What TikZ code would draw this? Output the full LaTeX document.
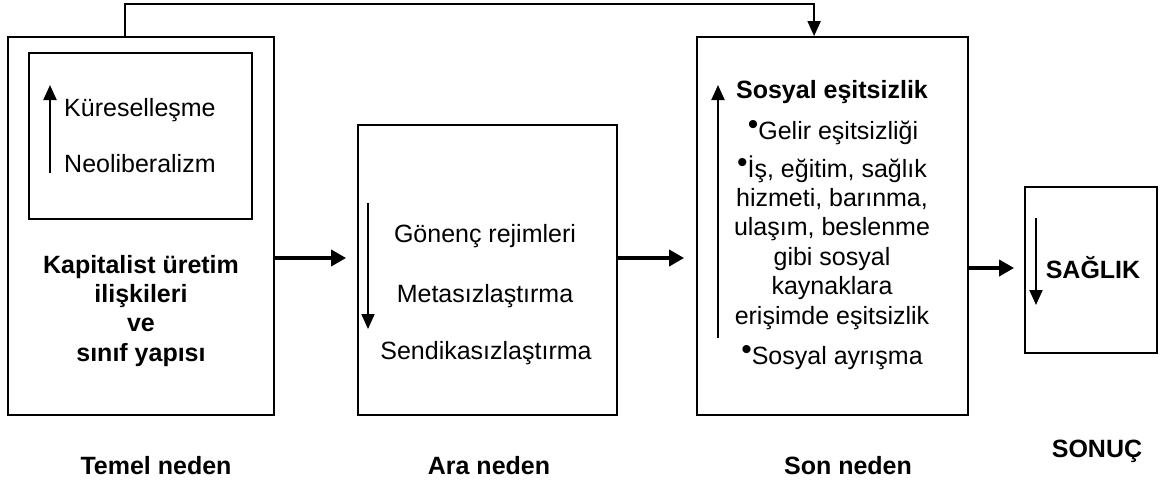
\documentclass[tikz,border=0pt]{standalone}
\usepackage{fontspec}
\setmainfont{Liberation Sans}
\usetikzlibrary{arrows.meta}
\newcommand{\mybul}{\raisebox{0.18em}{\fontsize{30}{30}\selectfont •}}
\begin{document}
\begin{tikzpicture}[x=1pt,y=-1pt,
  box/.style={draw,line width=1.8pt,inner sep=0pt},
  txt/.style={font=\fontsize{25}{29.4}\selectfont,inner sep=0pt},
  btxt/.style={font=\fontsize{25}{29.4}\selectfont\bfseries,inner sep=0pt},
  flow/.style={line width=4pt,-{Triangle[length=15pt,width=16pt]}},
  thinarr/.style={line width=2pt,-{Triangle[length=15pt,width=13pt]}}]
\fill[white] (0,0) rectangle (1163,485);
\useasboundingbox (0,0) rectangle (1163,485);
% boxes
\node[box,minimum width=266pt,minimum height=378pt] (box1) at (141,226) {};
\node[box,minimum width=223pt,minimum height=166pt] (inner) at (140.5,136) {};
\node[box,minimum width=259pt,minimum height=290pt] (box2) at (487.5,270) {};
\node[box,minimum width=271pt,minimum height=378pt] (box3) at (832.5,226) {};
\node[box,minimum width=132pt,minimum height=166pt] (box4) at (1091,270) {};
% box 1 texts
\node[txt,anchor=base west] (kur) at (64,116) {Küreselleşme};
\node[txt,anchor=base west] (neo) at (64,172) {Neoliberalizm};
\node[btxt,align=center,anchor=base] (kap) at (141,361.2) {Kapitalist üretim\\ilişkileri\\ve\\sınıf yapısı};
% box 2 texts
\node[txt,anchor=base] (gon) at (485,242) {Gönenç rejimleri};
\node[txt,anchor=base] (met) at (485,302) {Metasızlaştırma};
\node[txt,anchor=base] (sen) at (486,359) {Sendikasızlaştırma};
% box 3 texts
\node[btxt,anchor=base] (sos) at (832,98) {Sosyal eşitsizlik};
\node[txt,anchor=base] (gel) at (833,139) {\mybul Gelir eşitsizliği};
\node[txt,align=center,anchor=base] (is) at (832,324) {\mybul İş, eğitim, sağlık\\hizmeti, barınma,\\ulaşım, beslenme\\gibi sosyal\\kaynaklara\\erişimde eşitsizlik};
\node[txt,anchor=base] (ayr) at (832,364) {\mybul Sosyal ayrışma};
% box 4 text
\node[btxt,anchor=base] (sag) at (1093,278) {SAĞLIK};
% bottom labels
\node[btxt,anchor=base] (l1) at (156,474) {Temel neden};
\node[btxt,anchor=base] (l2) at (489,474) {Ara neden};
\node[btxt,anchor=base] (l3) at (848,474) {Son neden};
\node[btxt,anchor=base] (l4) at (1097,457) {SONUÇ};
% trend arrows inside boxes
\coordinate (u1a) at (50,173); \coordinate (u1b) at (50,85);
\coordinate (d2a) at (368,203); \coordinate (d2b) at (368,329);
\coordinate (u3a) at (718,338); \coordinate (u3b) at (718,85);
\coordinate (d4a) at (1036,218); \coordinate (d4b) at (1036,305);
\draw[thinarr] (u1a) -- (u1b);
\draw[thinarr] (d2a) -- (d2b);
\draw[thinarr] (u3a) -- (u3b);
\draw[thinarr] (d4a) -- (d4b);
% flow arrows
\draw[flow] ([yshift=-32pt]box1.east) -- ([xshift=-11pt,yshift=12pt]box2.west);
\draw[flow] ([yshift=12pt]box2.east) -- ([xshift=-12pt,yshift=-32pt]box3.west);
\draw[flow] ([yshift=-42pt]box3.east) -- ([xshift=-10pt,yshift=2pt]box4.west);
% top feedback connector
\draw[thinarr] ([xshift=118pt]box1.north west) -- ++(0,-32) -| ([xshift=118pt]box3.north west);
\end{tikzpicture}
\end{document}
